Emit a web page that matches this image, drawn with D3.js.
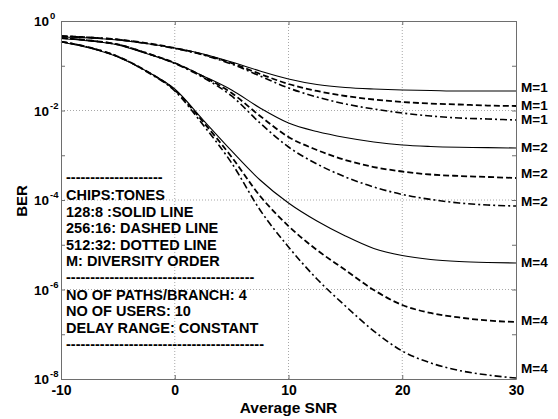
<!DOCTYPE html>
<html>
<head>
<meta charset="utf-8">
<script src="https://cdn.jsdelivr.net/npm/d3@7/dist/d3.min.js"></script>
<style>
  html, body { margin: 0; padding: 0; background: #fff; }
  svg { display: block; font-family: "Liberation Sans", Arial, sans-serif; font-weight: bold; }
</style>
</head>
<body>
<svg id="chart" width="558" height="419"></svg>
<script>
// ---- data ----
const snr = [-10, -7.5, -5, -2.5, 0, 2.5, 5, 7.5, 10, 12.5, 15, 17.5, 20, 22.5, 25, 27.5, 30];

// M = 1
const m1Solid   = [0.439, 0.417, 0.376, 0.314, 0.249, 0.183, 0.121, 0.0763, 0.0506, 0.0381, 0.0327, 0.0302, 0.0287, 0.0280, 0.0273, 0.0273, 0.0273];
const m1Dashed  = [0.462, 0.428, 0.386, 0.322, 0.249, 0.178, 0.115, 0.0654, 0.0391, 0.0273, 0.0211, 0.0176, 0.0155, 0.0143, 0.0136, 0.0129, 0.0126];
const m1DashDot = [0.462, 0.428, 0.386, 0.314, 0.243, 0.174, 0.109, 0.0590, 0.0318, 0.0200, 0.0140, 0.0108, 0.00879, 0.00754, 0.00680, 0.00646, 0.00613];

// M = 2
const m2Solid   = [0.406, 0.357, 0.291, 0.188, 0.115, 0.0590, 0.0287, 0.0114, 0.00526, 0.00339, 0.00249, 0.00198, 0.00169, 0.00157, 0.00151, 0.00148, 0.00145];
const m2Dashed  = [0.417, 0.367, 0.299, 0.193, 0.115, 0.0575, 0.0246, 0.00754, 0.00256, 0.00131, 7.83e-4, 5.46e-4, 4.33e-4, 3.71e-4, 3.44e-4, 3.27e-4, 3.10e-4];
const m2DashDot = [0.417, 0.367, 0.299, 0.193, 0.112, 0.0546, 0.0211, 0.00526, 0.00153, 6.38e-4, 3.27e-4, 1.95e-4, 1.33e-4, 1.03e-4, 8.57e-5, 7.73e-5, 7.34e-5];

// M = 4
const m4Solid   = [0.339, 0.249, 0.157, 0.0763, 0.0302, 0.00613, 0.00125, 2.80e-4, 8.57e-5, 3.39e-5, 1.57e-5, 8.25e-6, 5.75e-6, 4.68e-6, 4.22e-6, 4.01e-6, 3.91e-6];
const m4Dashed  = [0.348, 0.256, 0.161, 0.0763, 0.0287, 0.00553, 9.14e-4, 1.23e-4, 2.62e-5, 7.63e-6, 2.73e-6, 9.75e-7, 4.50e-7, 2.99e-7, 2.37e-7, 2.03e-7, 1.88e-7];
const m4DashDot = [0.348, 0.256, 0.161, 0.0744, 0.0273, 0.00474, 6.71e-4, 5.98e-5, 8.91e-6, 1.72e-6, 4.28e-7, 1.18e-7, 4.22e-8, 2.28e-8, 1.55e-8, 1.23e-8, 1.05e-8];

const seriesValues = [m1Solid, m1Dashed, m1DashDot, m2Solid, m2Dashed, m2DashDot, m4Solid, m4Dashed, m4DashDot];
const seriesStyles = ["solid", "dashed", "dashdot", "solid", "dashed", "dashdot", "solid", "dashed", "dashdot"];

// right-hand curve labels and where they sit (BER units)
const curveLabels   = ["M=1", "M=1", "M=1", "M=2", "M=2", "M=2", "M=4", "M=4", "M=4"];
const curveLabelAt  = [0.0327, 0.0133, 0.00629, 0.00149, 3.91e-4, 9.5e-5, 4.12e-6, 2.03e-7, 1.76e-8];

const xTicks = [-10, 0, 10, 20, 30];
const xGrid = [0, 10, 20];
const yTickExp = [0, -2, -4, -6, -8];
const yMinorExp = [-1, -3, -5, -7];
const yGridExp = [-2, -4, -6];

const legendLines = [
  "--------------------",
  "CHIPS:TONES",
  "128:8 :SOLID LINE",
  "256:16: DASHED LINE",
  "512:32: DOTTED LINE",
  "M: DIVERSITY ORDER",
  "---------------------------------------",
  "NO OF PATHS/BRANCH: 4",
  "NO OF USERS: 10",
  "DELAY RANGE: CONSTANT",
  "-----------------------------------------"
];

// ---- layout ----
const L = 61, R = 516, T = 21, B = 379;
const svg = d3.select("#chart");
const x = d3.scaleLinear().domain([-10, 30]).range([L, R]);
const y = d3.scaleLog().domain([1e-8, 1]).range([B, T]);

const axisColor = "#6e6e6e";
const gridColor = "#a8a8a8";

// grid
const grid = svg.append("g");
grid.selectAll("line.gx").data(xGrid).join("line")
  .attr("x1", d => x(d)).attr("x2", d => x(d)).attr("y1", T).attr("y2", B)
  .attr("stroke", gridColor).attr("stroke-width", 1).attr("stroke-dasharray", "1,2");
grid.selectAll("line.gy").data(yGridExp).join("line")
  .attr("x1", L).attr("x2", R).attr("y1", d => y(Math.pow(10, d))).attr("y2", d => y(Math.pow(10, d)))
  .attr("stroke", gridColor).attr("stroke-width", 1).attr("stroke-dasharray", "1,2");

// curves
const line = d3.line().x(d => x(d[0])).y(d => y(d[1])).curve(d3.curveMonotoneX);
const dashFor = { solid: null, dashed: "6,3", dashdot: "7,3,2,3" };
const widthFor = { solid: 1.1, dashed: 1.8, dashdot: 1.6 };
svg.append("g").selectAll("path").data(seriesValues).join("path")
  .attr("d", (vals) => line(snr.map((s, i) => [s, vals[i]])))
  .attr("fill", "none").attr("stroke", "#000")
  .attr("stroke-width", (d, i) => widthFor[seriesStyles[i]])
  .attr("stroke-dasharray", (d, i) => dashFor[seriesStyles[i]]);

// axes (box)
const tickFont = 14;
const xAxisB = d3.axisBottom(x).tickValues(xTicks).tickSizeInner(-4).tickSizeOuter(0).tickPadding(6).tickFormat(d => String(d));
const gxB = svg.append("g").attr("transform", `translate(0,${B})`).call(xAxisB);
const xAxisT = d3.axisTop(x).tickValues(xTicks).tickSizeInner(-4).tickSizeOuter(0).tickFormat("");
const gxT = svg.append("g").attr("transform", `translate(0,${T})`).call(xAxisT);

const yAll = yTickExp.concat(yMinorExp).map(e => Math.pow(10, e));
const yAxisL = d3.axisLeft(y).tickValues(yAll).tickSizeInner(-4).tickSizeOuter(0).tickFormat("");
const gyL = svg.append("g").attr("transform", `translate(${L},0)`).call(yAxisL);
const yAxisR = d3.axisRight(y).tickValues(yAll).tickSizeInner(-4).tickSizeOuter(0).tickFormat("");
const gyR = svg.append("g").attr("transform", `translate(${R},0)`).call(yAxisR);

[gxB, gxT, gyL, gyR].forEach(g => {
  g.select(".domain").attr("stroke", axisColor);
  g.selectAll(".tick line").attr("stroke", axisColor);
});
gxB.selectAll(".tick text").attr("fill", "#000").attr("font-size", tickFont)
  .attr("font-weight", "bold").attr("font-family", "Liberation Sans, Arial, sans-serif");

// y tick labels 10^e
const yl = svg.append("g");
yTickExp.forEach(e => {
  const t = yl.append("text").attr("x", 34).attr("y", y(Math.pow(10, e)) + 5)
    .attr("font-size", 13.5).attr("fill", "#000");
  t.append("tspan").text("10");
  t.append("tspan").attr("font-size", 9.5).attr("dy", -7).attr("dx", 1).text(String(e));
});

// axis titles
svg.append("text").attr("x", (L + R) / 2).attr("y", 413).attr("text-anchor", "middle")
  .attr("font-size", 15.5).text("Average SNR");
svg.append("text").attr("transform", `translate(27,${(T + B) / 2 + 1}) rotate(-90)`)
  .attr("text-anchor", "middle").attr("font-size", 15).text("BER");

// right labels
svg.append("g").selectAll("text").data(curveLabels).join("text")
  .attr("x", 521).attr("y", (d, i) => y(curveLabelAt[i])).attr("dy", "0.36em")
  .attr("font-size", 13.5).text(d => d);

// annotation block
const legendBase = [182, 200, 216.5, 233, 249.5, 266, 282, 299.5, 316, 332.5, 349];
svg.append("g").selectAll("text").data(legendLines).join("text")
  .attr("x", 66).attr("y", (d, i) => legendBase[i])
  .attr("font-size", 14.5).text(d => d);
</script>
</body>
</html>
